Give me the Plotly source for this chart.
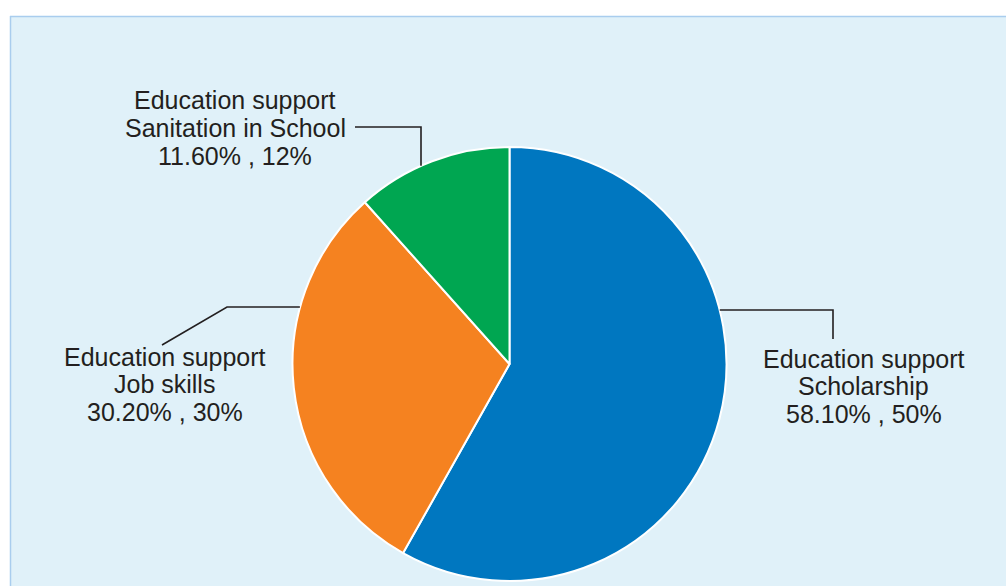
import math
import plotly.graph_objects as go

# ---- data ----
categories = ["Scholarship", "Job skills", "Sanitation in School"]
group_label = "Education support"
shares = [58.10, 30.20, 11.60]
rounded = ["50%", "30%", "12%"]
colors = ["#0077c0", "#f58220", "#00a651"]

W, H = 1006, 586
CX, CY, R = 509.5, 364.0, 217.0   # pie geometry in pixels

def px(x):
    return x / W

def py(y):
    return 1 - y / H

fig = go.Figure()
fig.add_trace(go.Pie(
    labels=categories,
    values=shares,
    sort=False,
    direction="clockwise",
    rotation=0,
    textinfo="none",
    hoverinfo="label+percent",
    marker=dict(colors=colors, line=dict(color="white", width=2)),
    showlegend=False,
    domain=dict(x=[px(CX - R), px(CX + R)], y=[py(CY + R), py(CY - R)]),
))

# background panel
shapes = [
    dict(type="rect", xref="paper", yref="paper", x0=px(10), x1=1.0, y0=0, y1=py(16),
         fillcolor="#e0f1f9", line=dict(width=0), layer="below"),
    dict(type="line", xref="paper", yref="paper", x0=px(10.5), x1=px(10.5), y0=0, y1=py(16),
         line=dict(color="#a9cdee", width=1.5), layer="below"),
    dict(type="line", xref="paper", yref="paper", x0=px(10), x1=1.0, y0=py(16.5), y1=py(16.5),
         line=dict(color="#a9cdee", width=1.5), layer="below"),
]

# leader lines: anchor angle on pie edge (deg clockwise from top), then elbow points
leaders = [
    (75.7, [(833, 310), (833, 339)]),     # Scholarship
    (285.0, [(227, 307), (162, 345)]),    # Job skills
    (336.0, [(421, 127), (355, 127)]),    # Sanitation
]
for ang, pts in leaders:
    a = math.radians(ang)
    sx = CX + R * math.sin(a)
    sy = CY - R * math.cos(a)
    if ang > 300:
        path_pts = [(pts[0][0], sy)]
    else:
        path_pts = [(sx, pts[0][1])]
    path_pts += pts
    d = "M " + " L ".join(f"{px(x):.5f},{py(y):.5f}" for x, y in path_pts)
    shapes.append(dict(type="path", xref="paper", yref="paper", path=d,
                       line=dict(color="#231f20", width=1.6)))

# labels: center x and first baseline (px)
label_pos = [(863.5, 367), (164.5, 365), (235, 109)]
LINE = 27.5
FONT = 25
annotations = []
for i, (cx, base) in enumerate(label_pos):
    lines = [group_label, categories[i], f"{shares[i]:.2f}% , {rounded[i]}"]
    for j, t in enumerate(lines):
        b = base + j * LINE
        annotations.append(dict(
            x=px(cx), y=py(b - 8.5), xref="paper", yref="paper",
            text=t, showarrow=False, xanchor="center", yanchor="middle",
            font=dict(family="Liberation Sans, Arial, sans-serif", size=FONT, color="#231f20"),
        ))

fig.update_layout(
    width=W, height=H,
    margin=dict(l=0, r=0, t=0, b=0),
    paper_bgcolor="white",
    plot_bgcolor="white",
    shapes=shapes,
    annotations=annotations,
)

fig.write_html("out.html")
